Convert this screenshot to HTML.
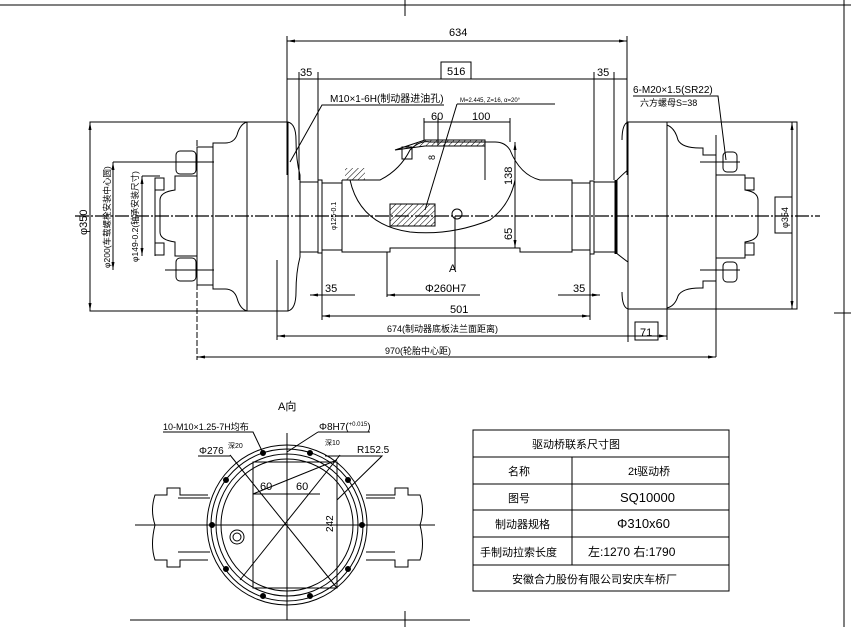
<!DOCTYPE html>
<html><head><meta charset="utf-8"><style>
html,body{margin:0;padding:0;background:#fff;}
svg{display:block;}
text{font-family:"Liberation Sans","Noto Sans CJK SC",sans-serif;fill:#000;}
</style></head><body>
<svg width="851" height="627" viewBox="0 0 851 627" xmlns="http://www.w3.org/2000/svg">
<defs>
<pattern id="h" width="4" height="4" patternUnits="userSpaceOnUse" patternTransform="rotate(45)"><line x1="0" y1="0" x2="0" y2="4" stroke="#000" stroke-width="1"/></pattern>
<marker id="a" markerWidth="8" markerHeight="6" refX="8" refY="3" orient="auto-start-reverse"><path d="M0,1.5 L8,3 L0,4.5" fill="#000"/></marker>
</defs>
<g stroke="#000" fill="none" stroke-width="1">
<line x1="0" y1="5" x2="851" y2="5"/>
<line x1="405" y1="0" x2="405" y2="16"/>
<line x1="844" y1="0" x2="844" y2="627"/>
<line x1="834" y1="313" x2="851" y2="313"/>
<line x1="130" y1="620" x2="470" y2="620"/>
<line x1="405" y1="611" x2="405" y2="627"/>

<line x1="75" y1="216" x2="820" y2="216" stroke-dasharray="14,2,2,2" stroke-width="1.3"/>

<!-- left wheel -->
<rect x="90" y="122" width="157" height="189"/>
<path d="M247,122 H288 Q296,124 296,140 Q296,160 300,175 V257 Q296,272 296,292 Q296,309 288,311 H247"/>
<line x1="288" y1="122" x2="288" y2="311"/>
<path d="M247,122 Q240,124 237,135 Q234,143 225,143 H213 V147 H197 V176 M197,256 V285 H213 V289 H225 Q234,289 237,298 Q240,309 247,311"/>
<line x1="213" y1="147" x2="213" y2="285"/>
<line x1="197" y1="176" x2="197" y2="256"/>
<rect x="176" y="151" width="20" height="23" rx="4"/>
<rect x="176" y="258" width="20" height="23" rx="4"/>
<line x1="165" y1="162" x2="214" y2="162"/>
<line x1="165" y1="270" x2="214" y2="270"/>
<path d="M197,176 H175 V190 Q160,192 160,200 V232 Q160,240 175,242 V256 H197"/>
<rect x="155" y="178" width="9" height="12"/><rect x="155" y="243" width="9" height="12"/>
<line x1="155" y1="178" x2="155" y2="256"/>
<line x1="197" y1="140" x2="197" y2="360" stroke-dasharray="6,2"/>
<path d="M300,182 H318 M300,252 H318"/>
<rect x="318" y="180" width="4" height="73"/>
<path d="M322,183 H342 M322,250 H342"/>
<!-- housing -->
<path d="M342,180 V252 H390 V248 H520 V252 H572 V180 H540 Q520,175 510,150 Q505,142 495,142 H430 Q420,140 410,150 Q400,170 380,180 H342"/>
<path d="M350,180 Q360,225 410,232 Q450,236 490,220 Q510,205 515,180" />
<rect x="345" y="168" width="20" height="12" fill="url(#h)" stroke="none"/>
<path d="M395,150 L425,140 H485 V146 H425 Z" fill="url(#h)"/>
<rect x="402" y="147" width="10" height="12"/>
<rect x="390" y="204" width="45" height="22" fill="url(#h)"/>
<circle cx="457" cy="214" r="5"/>
<line x1="485" y1="146" x2="485" y2="180"/>
<rect x="590" y="181" width="4" height="73"/>
<path d="M572,183 H590 M572,250 H590 M594,182 H615 M594,252 H615"/>
<path d="M615,182 Q625,172 628,170 V262 Q625,260 615,252 Z"/>
<line x1="616" y1="180" x2="616" y2="254" stroke-width="3"/>
<!-- right wheel -->
<rect x="628" y="122" width="169" height="187"/>
<path d="M628,122 Q622,124 622,140 M628,309 Q622,307 622,292"/>
<line x1="667" y1="122" x2="667" y2="309"/>
<path d="M667,125 Q675,128 678,140 Q682,148 700,148 H703 V155 H716 V281 H703 V288 H700 Q682,288 678,296 Q675,306 667,308"/>
<line x1="716" y1="135" x2="716" y2="357"/>
<rect x="723" y="152" width="14" height="20" rx="4"/>
<rect x="723" y="262" width="14" height="20" rx="4"/>
<line x1="700" y1="162" x2="740" y2="162"/><line x1="700" y1="270" x2="740" y2="270"/>
<path d="M716,175 H745 V190 Q758,192 758,200 V232 Q758,240 745,242 V258 H716"/>
<rect x="745" y="178" width="9" height="12"/><rect x="745" y="243" width="9" height="12"/>

<line x1="287" y1="41" x2="627" y2="41" marker-start="url(#a)" marker-end="url(#a)"/>
<line x1="287" y1="36" x2="287" y2="175"/>
<line x1="627" y1="36" x2="627" y2="175"/>
<line x1="287" y1="79" x2="627" y2="79"/>
<rect x="441" y="62" width="30" height="17"/>
<line x1="299" y1="72" x2="299" y2="180"/>
<line x1="318" y1="72" x2="318" y2="180"/>
<line x1="594" y1="72" x2="594" y2="180"/>
<line x1="614" y1="72" x2="614" y2="180"/>
<path d="M444,105 H322 L290,162"/>
<path d="M457,104 H555 M457,104 L425,210"/>
<line x1="424" y1="122" x2="510" y2="122"/>
<line x1="424" y1="118" x2="424" y2="140"/>
<line x1="510" y1="118" x2="510" y2="142"/>
<line x1="438" y1="118" x2="438" y2="145"/>
<line x1="515" y1="142" x2="515" y2="248" marker-start="url(#a)" marker-end="url(#a)"/>
<line x1="455" y1="216" x2="455" y2="270"/>
<path d="M633,96 H718 L726,160"/>
<line x1="310" y1="295" x2="355" y2="295" marker-start="url(#a)"/>
<line x1="387" y1="295" x2="480" y2="295" marker-start="url(#a)"/>
<line x1="387" y1="252" x2="387" y2="297"/>
<line x1="558" y1="295" x2="600" y2="295" marker-end="url(#a)"/>
<line x1="322" y1="316" x2="590" y2="316" marker-start="url(#a)" marker-end="url(#a)"/>
<line x1="322" y1="253" x2="322" y2="320"/>
<line x1="590" y1="253" x2="590" y2="320"/>
<line x1="277" y1="336" x2="667" y2="336" marker-start="url(#a)" marker-end="url(#a)"/>
<line x1="277" y1="260" x2="277" y2="340"/>
<line x1="667" y1="309" x2="667" y2="340"/>
<line x1="197" y1="357" x2="716" y2="357" marker-start="url(#a)" marker-end="url(#a)"/>
<rect x="635" y="322" width="23" height="18"/>
<line x1="628" y1="309" x2="628" y2="342"/>
<line x1="90" y1="122" x2="90" y2="311" marker-start="url(#a)" marker-end="url(#a)"/>
<line x1="113" y1="162" x2="113" y2="270" marker-start="url(#a)" marker-end="url(#a)"/>
<line x1="113" y1="162" x2="176" y2="162"/>
<line x1="142" y1="176" x2="142" y2="256" marker-start="url(#a)" marker-end="url(#a)"/>
<line x1="142" y1="176" x2="160" y2="176"/>
<line x1="792" y1="122" x2="792" y2="309" marker-start="url(#a)" marker-end="url(#a)"/>
<rect x="775" y="197" width="17" height="36"/>

<!-- bottom view -->
<line x1="135" y1="525" x2="435" y2="525"/>
<line x1="287" y1="433" x2="287" y2="620"/>
<circle cx="287" cy="525" r="80"/>
<circle cx="287" cy="525" r="76"/>
<circle cx="287" cy="525" r="71"/>
<circle cx="287" cy="525" r="66"/>
<rect x="253" y="462" width="84" height="126"/>
<line x1="253" y1="494" x2="320" y2="494"/>
<line x1="230" y1="455" x2="337" y2="588"/>
<line x1="253" y1="494" x2="337" y2="460" />
<line x1="340" y1="455" x2="240" y2="580"/>
<path d="M208,495 H180 V488 H167 V495 H155 Q150,510 155,525 Q150,545 155,560 H167 V567 H180 V560 H208"/>
<line x1="178" y1="498" x2="210" y2="498"/><line x1="178" y1="552" x2="210" y2="552"/>
<path d="M366,495 H395 V488 H408 V495 H420 Q425,510 420,525 Q425,545 420,560 H408 V567 H395 V560 H366"/>
<line x1="366" y1="498" x2="395" y2="498"/><line x1="366" y1="552" x2="395" y2="552"/>
<circle cx="237" cy="537" r="7"/><circle cx="237" cy="537" r="4"/>
<g fill="#000">
<circle cx="263" cy="453" r="2.5"/><circle cx="310" cy="453" r="2.5"/>
<circle cx="226" cy="480" r="2.5"/><circle cx="348" cy="480" r="2.5"/>
<circle cx="212" cy="525" r="2.5"/><circle cx="362" cy="525" r="2.5"/>
<circle cx="226" cy="569" r="2.5"/><circle cx="348" cy="569" r="2.5"/>
<circle cx="263" cy="596" r="2.5"/><circle cx="310" cy="596" r="2.5"/>
</g>
<path d="M163,432 H253 L263,453"/>
<path d="M198,456 H230"/>
<path d="M318,432 H370 M318,432 L287,452"/>
<path d="M325,456 H382 L337,500"/>

<rect x="473" y="430" width="256" height="161"/>
<line x1="473" y1="457" x2="729" y2="457"/>
<line x1="473" y1="484" x2="729" y2="484"/>
<line x1="473" y1="510" x2="729" y2="510"/>
<line x1="473" y1="537" x2="729" y2="537"/>
<line x1="473" y1="565" x2="729" y2="565"/>
<line x1="572" y1="457" x2="572" y2="565"/>
</g>

<g font-size="11">
<text x="449" y="36">634</text>
<text x="447" y="75">516</text>
<text x="300" y="76">35</text>
<text x="597" y="76">35</text>
<text x="330" y="102" font-size="10">M10×1-6H(制动器进油孔)</text>
<text x="460" y="102" font-size="6">M=2.445, Z=16, α=20°</text>
<text x="431" y="120">60</text>
<text x="472" y="120">100</text>
<text x="633" y="93" font-size="10">6-M20×1.5(SR22)</text>
<text x="640" y="106" font-size="9">六方螺母S=38</text>
<text x="449" y="272">A</text>
<text x="425" y="292">Φ260H7</text>
<text x="325" y="292">35</text>
<text x="573" y="292">35</text>
<text x="450" y="313">501</text>
<text x="387" y="332" font-size="9">674(制动器底板法兰面距离)</text>
<text x="385" y="354" font-size="9">970(轮胎中心距)</text>
<text x="640" y="336">71</text>
<text transform="translate(87,235) rotate(-90)">φ350</text>
<text transform="translate(110,268) rotate(-90)" font-size="8.5">φ200(车载螺栓安装中心圆)</text>
<text transform="translate(138,262) rotate(-90)" font-size="8.5">φ149-0.2(轴承安装尺寸)</text>
<text transform="translate(336,230) rotate(-90)" font-size="7">φ125-0.1</text>
<text transform="translate(788,228) rotate(-90)" font-size="9">φ354</text>
<text transform="translate(512,185) rotate(-90)">138</text>
<text transform="translate(512,240) rotate(-90)">65</text>
<text transform="translate(435,160) rotate(-90)" font-size="9">8</text>
<text x="278" y="410">A向</text>
<text x="163" y="430" font-size="9">10-M10×1.25-7H均布</text>
<text x="199" y="454" font-size="10">Φ276</text>
<text x="228" y="448" font-size="7">深20</text>
<text x="319" y="430" font-size="10">Φ8H7(<tspan font-size="6" dy="-4">+0.015</tspan><tspan dy="4">)</tspan></text>
<text x="325" y="445" font-size="7">深10</text>
<text x="357" y="453" font-size="10">R152.5</text>
<text x="260" y="490">60</text>
<text x="296" y="490">60</text>
<text transform="translate(333,532) rotate(-90)" font-size="10">242</text>
<text x="532" y="448">驱动桥联系尺寸图</text>
<text x="508" y="475">名称</text>
<text x="628" y="475">2t驱动桥</text>
<text x="508" y="502">图号</text>
<text x="620" y="502" font-size="13">SQ10000</text>
<text x="495" y="528">制动器规格</text>
<text x="617" y="528" font-size="13">Φ310x60</text>
<text x="480" y="556">手制动拉索长度</text>
<text x="588" y="556" font-size="12">左:1270 右:1790</text>
<text x="512" y="583">安徽合力股份有限公司安庆车桥厂</text>
</g>
</svg>
</body></html>
